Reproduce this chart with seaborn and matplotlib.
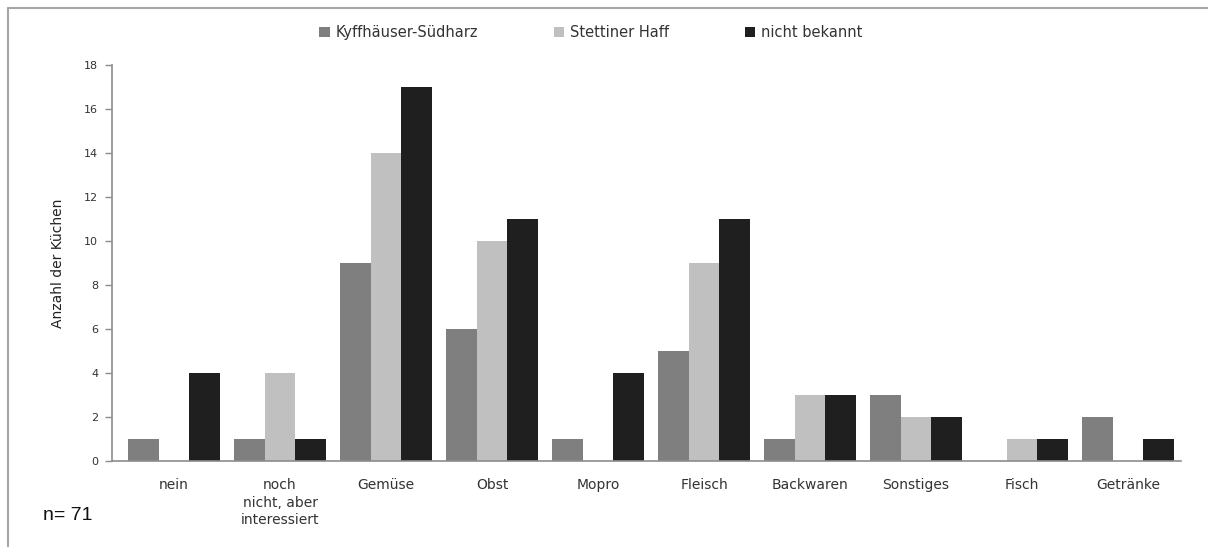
import pandas as pd
import matplotlib.pyplot as plt
import seaborn as sns
from matplotlib.lines import Line2D

categories = ["nein", "noch\nnicht, aber\ninteressiert", "Gemüse", "Obst", "Mopro",
              "Fleisch", "Backwaren", "Sonstiges", "Fisch", "Getränke"]
series_names = ["Kyffhäuser-Südharz", "Stettiner Haff", "nicht bekannt"]
kyffhaeuser = [1, 1, 9, 6, 1, 5, 1, 3, 0, 2]
stettiner = [0, 4, 14, 10, 0, 9, 3, 2, 1, 0]
nicht_bekannt = [4, 1, 17, 11, 4, 11, 3, 2, 1, 1]
y_ticks = [0, 2, 4, 6, 8, 10, 12, 14, 16, 18]

colors = ["#7f7f7f", "#c0c0c0", "#1f1f1f"]

rows = []
for name, vals in zip(series_names, [kyffhaeuser, stettiner, nicht_bekannt]):
    for cat, v in zip(categories, vals):
        rows.append({"Kategorie": cat, "Region": name, "Anzahl": v})
df = pd.DataFrame(rows)

sns.set_theme(style="white")
plt.rcParams["font.family"] = ["DejaVu Sans"]

fig = plt.figure(figsize=(12.08, 5.47), dpi=100)
ax = fig.add_axes([0.0927, 0.1572, 0.885, 0.724])

sns.barplot(data=df, x="Kategorie", y="Anzahl", hue="Region", order=categories,
            hue_order=series_names, palette=colors, width=0.86, linewidth=0,
            saturation=1, ax=ax)

ax.set_ylim(0, 18)
ax.set_yticks(y_ticks)
# Excel-style: small gap between the value axis and the first category
ax.set_xlim(-0.585, len(categories) - 0.5)
ax.set_xlabel("")
ax.set_ylabel("Anzahl der Küchen", fontsize=10, color="#222222", labelpad=14)

for side in ["top", "right"]:
    ax.spines[side].set_visible(False)
for side in ["left", "bottom"]:
    ax.spines[side].set_color("#8c8c8c")
    ax.spines[side].set_linewidth(1.2)

ax.tick_params(axis="y", length=5, width=1, color="#8c8c8c", direction="out",
               labelsize=8, labelcolor="#333333", pad=5, left=True)
ax.tick_params(axis="x", length=0, labelsize=10, labelcolor="#333333", pad=12)
for lbl in ax.get_xticklabels():
    lbl.set_linespacing(1.35)

ax.legend(loc="upper center", bbox_to_anchor=(0.489, 0.978), bbox_transform=fig.transFigure,
          ncol=3, frameon=False, fontsize=10.5, handlelength=0.7, handleheight=0.7,
          handletextpad=0.4, columnspacing=5.2, labelcolor="#333333")

fig.text(0.0356, 0.0576, "n= 71", fontsize=14, family=["Liberation Sans", "DejaVu Sans"],
         color="#111111", ha="left", va="center")

# outer frame (top and left edges visible)
frame_color = "#a6a6a6"
fig.add_artist(Line2D([0.0066, 1.0], [0.985, 0.985], transform=fig.transFigure,
                      color=frame_color, linewidth=1.5))
fig.add_artist(Line2D([0.0066, 0.0066], [0.0, 0.985], transform=fig.transFigure,
                      color=frame_color, linewidth=1.5))

fig.savefig("out.png", dpi=100, facecolor="white")
